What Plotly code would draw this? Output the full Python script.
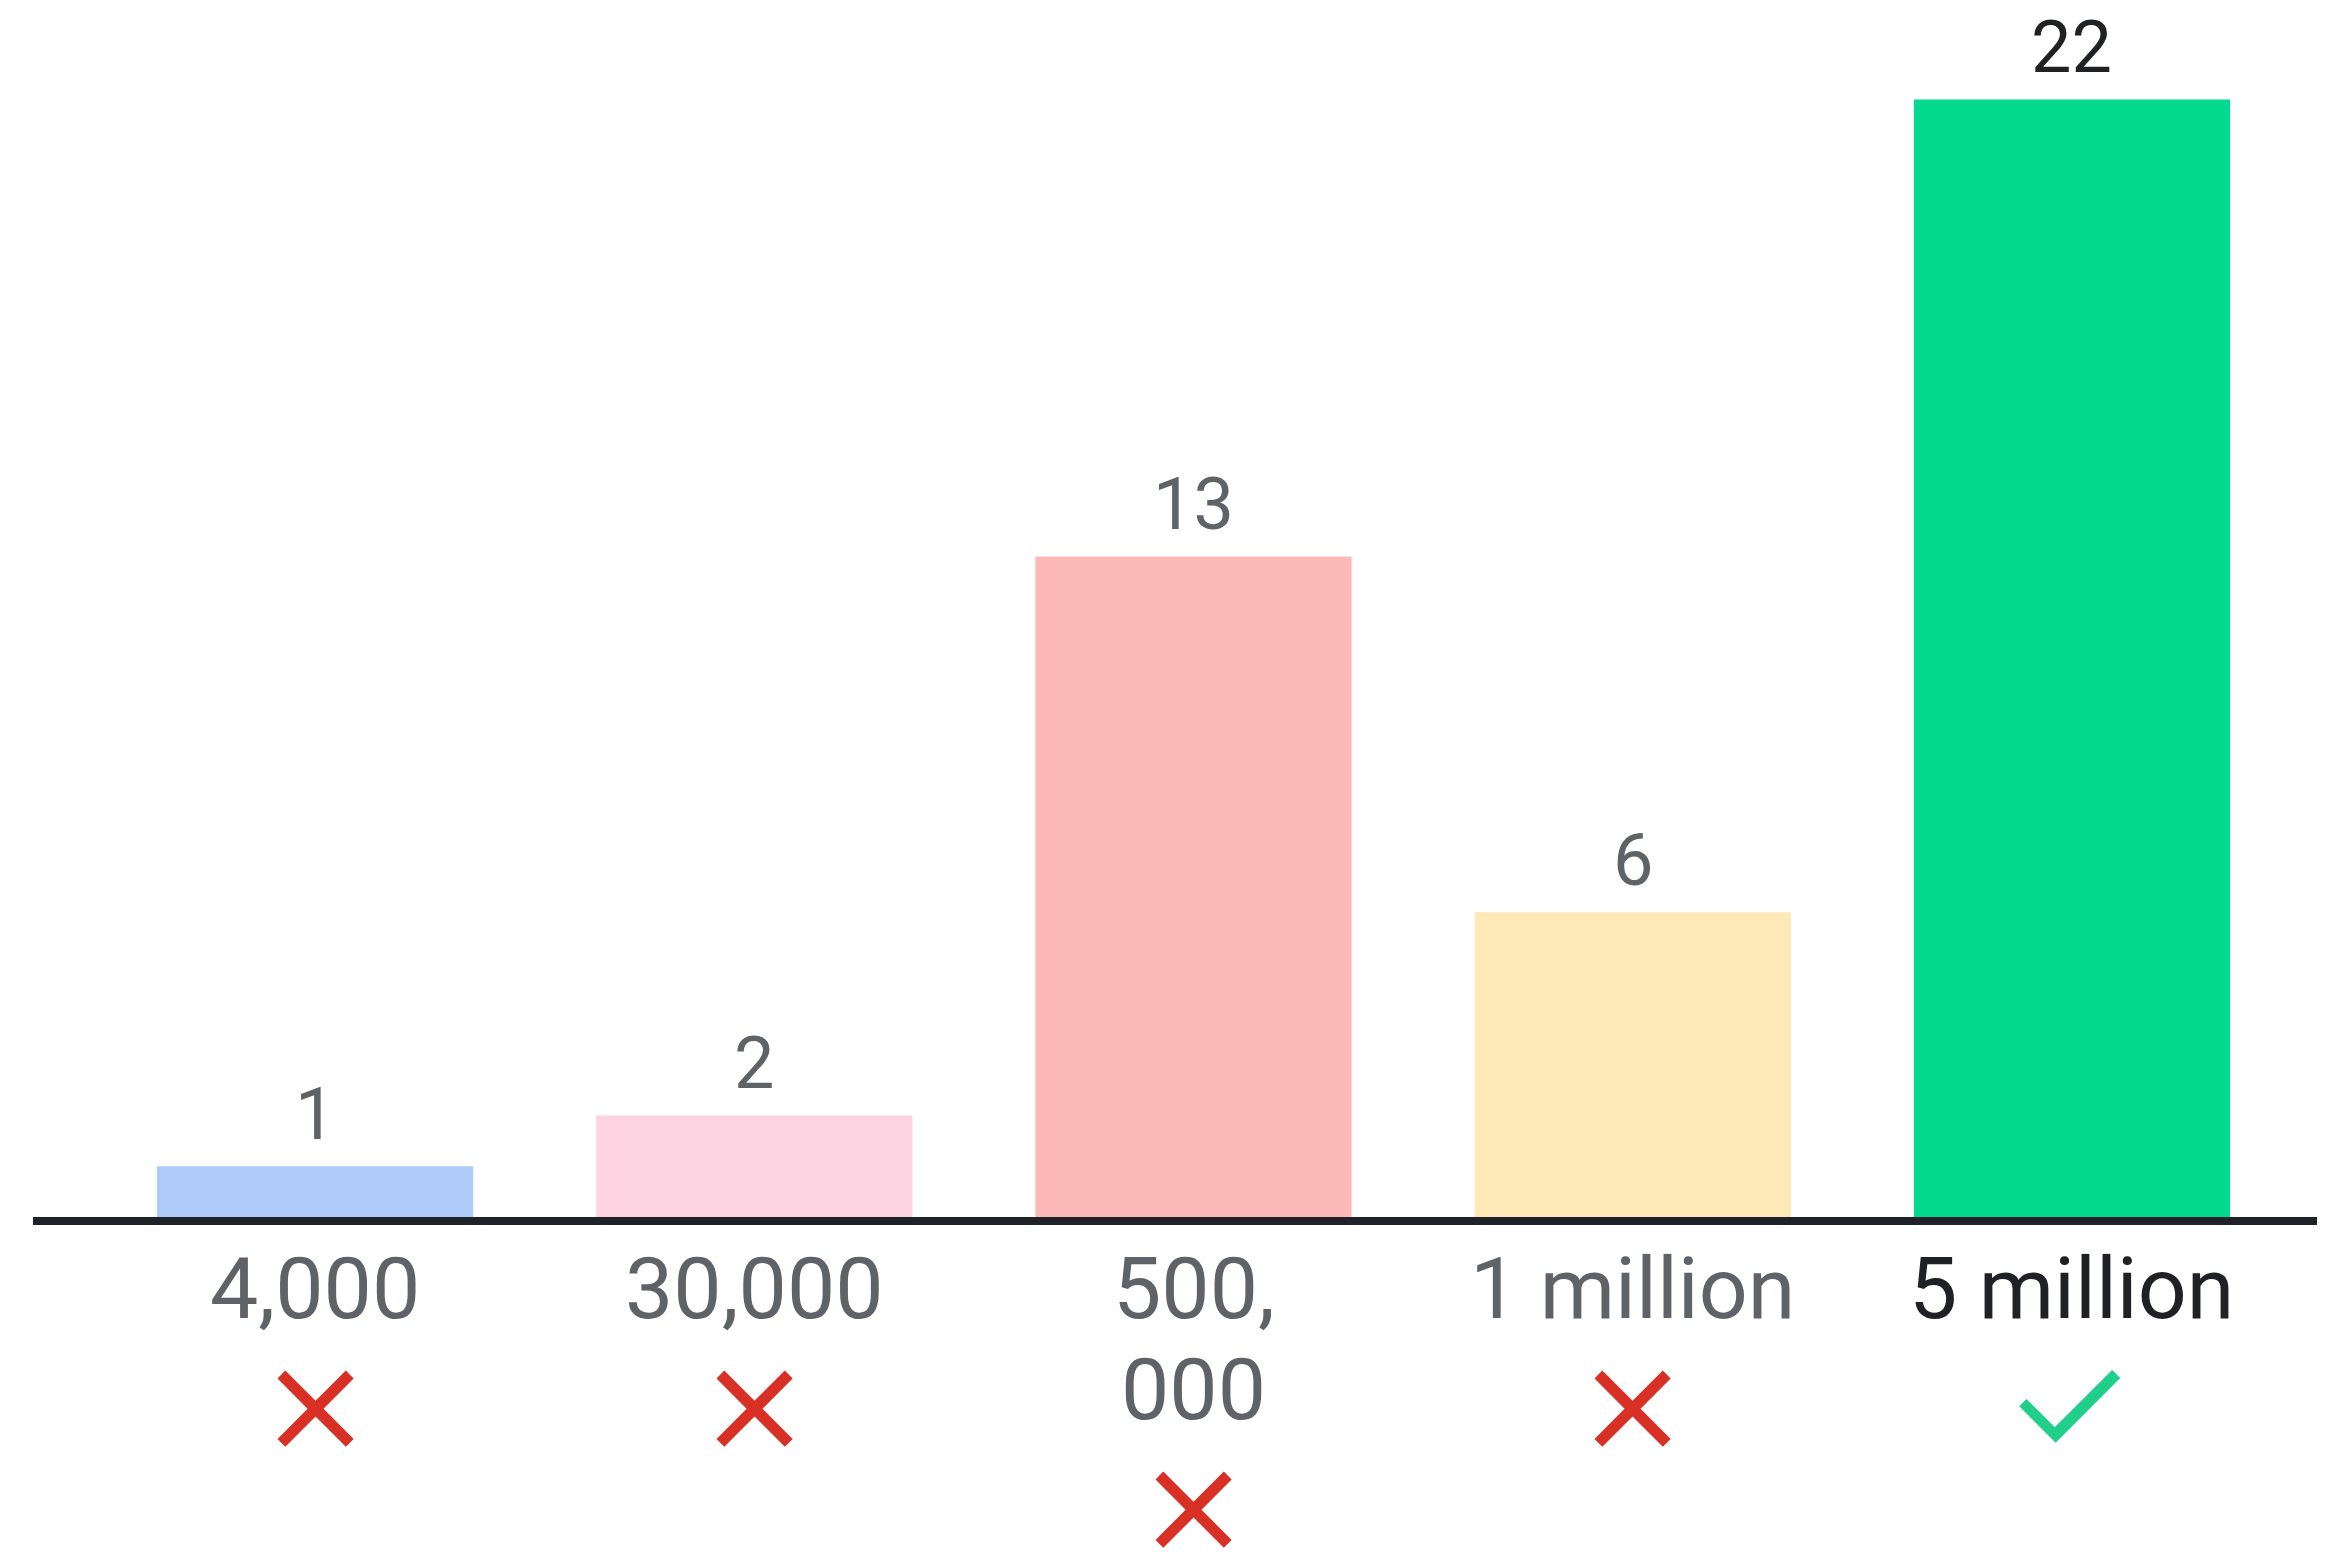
import plotly.graph_objects as go

categories = ["4,000", "30,000", "500,<br>000", "1 million", "5 million"]
values = [1, 2, 13, 6, 22]
correct = [False, False, False, False, True]

bar_colors = ["#aecbfa", "#fdd2e1", "#fdb9b8", "#fde9b8", "#00d98e"]
GRAY = "#5f6368"
DARK = "#202124"
FONT = "Roboto, Arial, sans-serif"

W, H = 2317, 1544
x_idx = list(range(len(categories)))

fig = go.Figure()
fig.add_trace(go.Bar(
    x=x_idx, y=values, width=0.72,
    marker=dict(color=bar_colors, line=dict(width=0)),
    hoverinfo="skip",
))

annotations = []
for i, (cat, v, ok) in enumerate(zip(categories, values, correct)):
    col = DARK if ok else GRAY
    annotations.append(dict(
        x=i, y=v, xref="x", yref="y", text=str(v), showarrow=False,
        yanchor="middle", yshift=52,
        font=dict(family=FONT, size=72, color=col),
    ))
    lines = cat.split("<br>")
    for j, ln in enumerate(lines):
        annotations.append(dict(
            x=i, y=0, xref="x", yref="y", text=ln, showarrow=False,
            yanchor="middle", yshift=-71 - 101 * j,
            font=dict(family=FONT, size=86, color=col),
        ))
    extra = -101 * (len(lines) - 1)
    if ok:
        annotations.append(dict(
            x=i, y=0, xref="x", yref="y", text="⅃", textangle=45, showarrow=False,
            xanchor="center", yanchor="middle", yshift=-180 + extra,
            font=dict(family="Roboto", size=128, color="#1fcf8a"),
        ))
    else:
        annotations.append(dict(
            x=i, y=0, xref="x", yref="y", text="⨯", showarrow=False,
            xanchor="center", yanchor="middle", yshift=-187 + extra,
            font=dict(family="DejaVu Sans", size=135, color="#d93025"),
        ))

fig.update_layout(
    width=W, height=H,
    margin=dict(l=25, r=0, t=0, b=335),
    paper_bgcolor="white", plot_bgcolor="white",
    showlegend=False,
    annotations=annotations,
    xaxis=dict(range=[-0.642, 4.576], showticklabels=False, ticks="",
               showgrid=False, zeroline=False,
               showline=True, linewidth=8, linecolor="#1f2329"),
    yaxis=dict(range=[0, 23.8], visible=False, showgrid=False, zeroline=False),
)

fig.write_html("out.html")
